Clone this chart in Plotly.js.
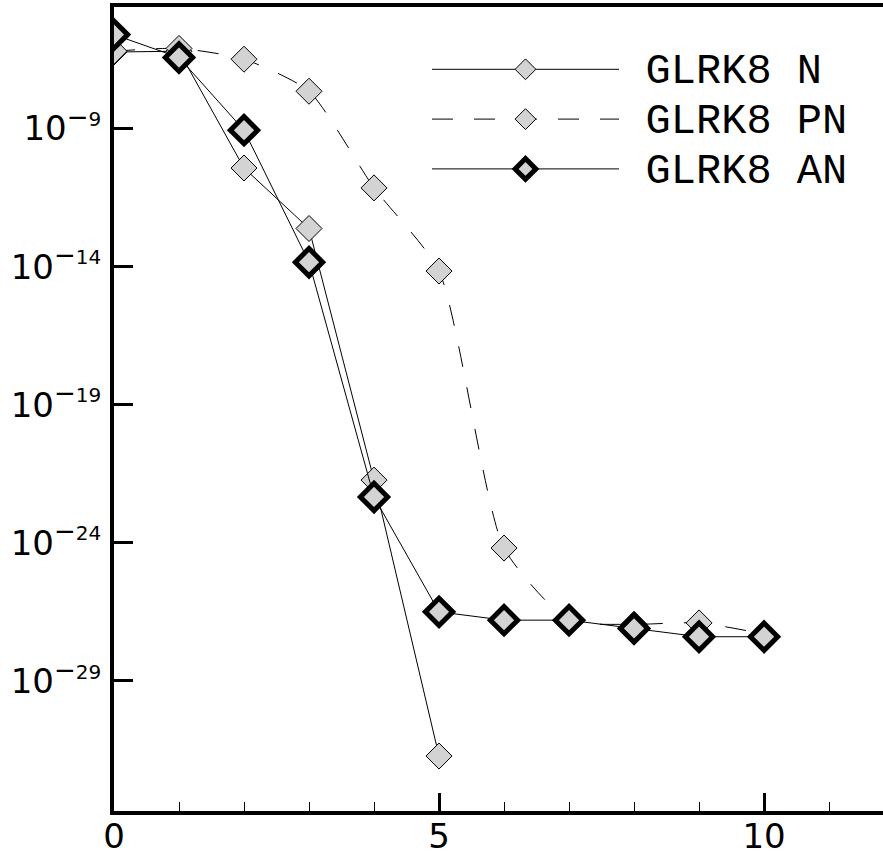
<!DOCTYPE html>
<html>
<head>
<meta charset="utf-8">
<script src="https://cdn.plot.ly/plotly-3.0.1.min.js"></script>
<style>html,body{margin:0;padding:0;background:#fff;}#chart{width:883px;height:855px;}</style>
</head>
<body>
<div id="chart"></div>
<script>
// iterations
const iterN  = [0, 1, 2, 3, 4, 5];
const iterPN = [0, 1, 2, 3, 4, 5, 6, 7, 8, 9, 10];
const iterAN = [0, 1, 2, 3, 4, 5, 6, 7, 8, 9, 10];
// log10 of error values
const log10N  = [-6.23, -6.2, -10.43, -12.62, -21.73, -31.72];
const log10PN = [-6.2, -6.1, -6.49, -7.65, -11.15, -14.16, -24.19, -26.8, -26.95, -26.9, -27.3];
const log10AN = [-5.6, -6.43, -9.06, -13.84, -22.34, -26.5, -26.8, -26.8, -27.1, -27.4, -27.4];
const names = ['GLRK8 N', 'GLRK8 PN', 'GLRK8 AN'];
const yTickExp = [-9, -14, -19, -24, -29];

const pow = a => a.map(v => Math.pow(10, v));
const legendName = s => '\u00a0<span style="font-size:42px">' + s + '</span>';
const supLabel = e => '10<sup style="font-size:96%"><span style="font-size:26px">\u2212</span><span style="font-size:20px">' + Math.abs(e) + '</span></sup>';

const traces = [
  {x: iterN, y: pow(log10N), name: legendName(names[0]), mode: 'lines+markers',
   line: {color: '#000', width: 1},
   marker: {symbol: 'diamond', size: 20, color: '#d3d3d3', line: {color: '#000', width: 1}}},
  {x: iterPN, y: pow(log10PN), name: legendName(names[1]), mode: 'lines+markers',
   line: {color: '#000', width: 1, dash: '21px,21px', shape: 'spline', smoothing: 0.6},
   marker: {symbol: 'diamond', size: 20, color: '#d3d3d3', line: {color: '#000', width: 1}}},
  {x: iterAN, y: pow(log10AN), name: legendName(names[2]), mode: 'lines+markers',
   line: {color: '#000', width: 1},
   marker: {symbol: 'diamond', size: 21, color: '#d3d3d3', line: {color: '#000', width: 5}}}
];

const layout = {
  width: 883, height: 855,
  margin: {l: 114, r: 0, t: 7, b: 44},
  paper_bgcolor: '#fff', plot_bgcolor: '#fff',
  showlegend: true,
  legend: {x: 0.407, y: 0.9597, xanchor: 'left', yanchor: 'top',
    bgcolor: 'rgba(0,0,0,0)', borderwidth: 0, itemwidth: 187,
    font: {family: 'Liberation Mono, Courier New, monospace', size: 36, color: '#000'}},
  xaxis: {
    range: [0, 11.83], showgrid: false, zeroline: false,
    showline: true, linecolor: '#000', linewidth: 4, mirror: true,
    ticks: 'inside', ticklen: 18, tickwidth: 3, tickcolor: '#000',
    tick0: 0, dtick: 5, ticklabelstandoff: -8,
    minor: {ticks: 'inside', dtick: 1, ticklen: 9, tickwidth: 1, tickcolor: '#000'},
    tickfont: {family: 'DejaVu Sans', size: 34, color: '#000'}
  },
  yaxis: {
    type: 'log', range: [-33.71, -4.6], showgrid: false, zeroline: false,
    showline: true, linecolor: '#000', linewidth: 4, mirror: false,
    ticks: 'inside', ticklen: 19, tickwidth: 3, tickcolor: '#000',
    tickmode: 'array', ticklabelstandoff: 2,
    tickvals: yTickExp.map(e => Math.pow(10, e)),
    ticktext: yTickExp.map(supLabel),
    tickfont: {family: 'DejaVu Sans', size: 34, color: '#000'}
  }
};

Plotly.newPlot('chart', traces, layout, {displayModeBar: false, staticPlot: true});
</script>
</body>
</html>
